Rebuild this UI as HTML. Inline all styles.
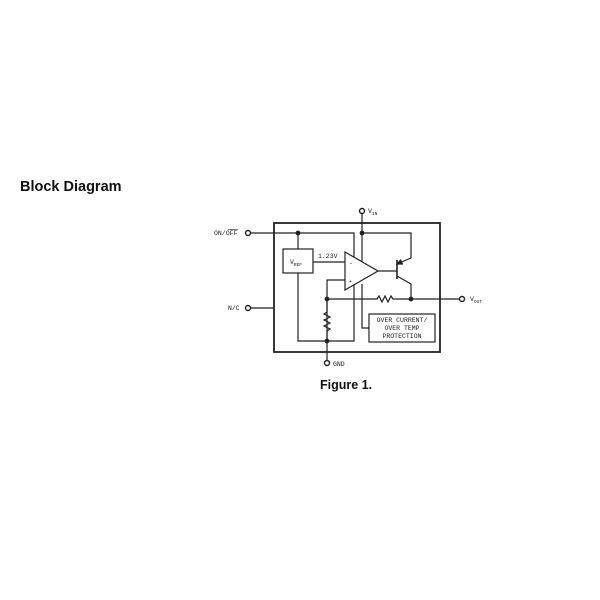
<!DOCTYPE html>
<html><head><style>
body{margin:0;width:600px;height:600px;background:#fff;position:relative;font-family:"Liberation Sans",sans-serif}
.t{position:absolute;font-weight:bold;color:#111}
svg{position:absolute;left:0;top:0}
</style></head><body>
<div class="t" style="left:20px;top:179px;font-size:14.5px">Block Diagram</div>
<div class="t" style="left:320px;top:378px;font-size:12.5px">Figure 1.</div>
<svg width="600" height="600" viewBox="0 0 600 600" font-family="Liberation Mono, monospace" font-size="6.5" fill="none" stroke="#222" stroke-width="1.2">
<rect x="274" y="223" width="166" height="129" stroke-width="1.8"/>
<circle cx="362" cy="211" r="2.5" fill="#fff" stroke-width="1.4"/>
<text x="368" y="213" fill="#222" stroke="none">V<tspan font-size="4.5" dy="2">IN</tspan></text>
<path d="M362 214V266"/>
<circle cx="362" cy="233" r="1.8" fill="#222"/>
<path d="M362 233H411V258L397 264"/>
<path d="M401 259.5L397 264L403 264" fill="#222"/>
<circle cx="248" cy="233" r="2.5" fill="#fff" stroke-width="1.4"/>
<text x="214" y="235" fill="#222" stroke="none">ON/OFF</text>
<path d="M228 229.5H238" stroke-width="0.6"/>
<path d="M251 233H354V341H298V273"/>
<circle cx="298" cy="233" r="1.8" fill="#222"/>
<path d="M298 233V249"/>
<rect x="283" y="249" width="30" height="24" fill="#fff"/>
<text x="290" y="264" fill="#222" stroke="none">V<tspan font-size="4.5" dy="2">REF</tspan></text>
<path d="M313 262H345"/>
<text x="318" y="258" fill="#222" stroke="none">1.23V</text>
<path d="M345 252L378 271L345 290Z" fill="#fff"/>
<text x="349" y="265" fill="#222" stroke="none">-</text>
<text x="349" y="283" fill="#222" stroke="none" font-size="5">+</text>
<path d="M345 280H327V341"/>
<path d="M362 284V328H369"/>
<path d="M378 271H397"/>
<path d="M397 260V279" stroke-width="1.6"/>
<path d="M397 276L411 284V299"/>
<path d="M327 299H377L379 296L382 302L385 296L388 302L391 296L393 299H459"/>
<circle cx="327" cy="299" r="1.8" fill="#222"/>
<circle cx="411" cy="299" r="1.8" fill="#222"/>
<circle cx="462" cy="299" r="2.5" fill="#fff" stroke-width="1.4"/>
<text x="470" y="301" fill="#222" stroke="none">V<tspan font-size="4.5" dy="2">OUT</tspan></text>
<path d="M327 299V312L324 314L330 317L324 320L330 323L324 326L330 329L327 331V360"/>
<circle cx="327" cy="341" r="1.8" fill="#222"/>
<circle cx="327" cy="363" r="2.5" fill="#fff" stroke-width="1.4"/>
<text x="333" y="366" fill="#222" stroke="none">GND</text>
<circle cx="248" cy="308" r="2.5" fill="#fff" stroke-width="1.4"/>
<path d="M251 308H274"/>
<text x="228" y="310" fill="#222" stroke="none">N/C</text>
<rect x="369" y="314" width="66" height="28"/>
<text x="402" y="322" text-anchor="middle" fill="#222" stroke="none">OVER CURRENT/</text>
<text x="402" y="330" text-anchor="middle" fill="#222" stroke="none">OVER TEMP</text>
<text x="402" y="338" text-anchor="middle" fill="#222" stroke="none">PROTECTION</text>
</svg>
</body></html>
